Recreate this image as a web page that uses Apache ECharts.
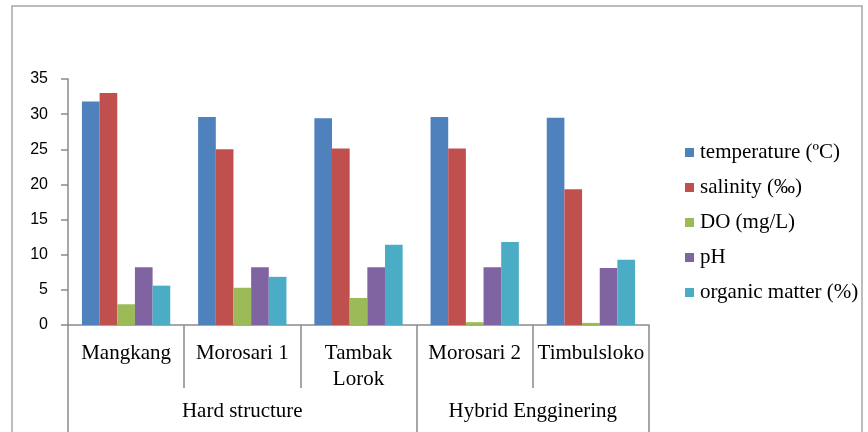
<!DOCTYPE html>
<html><head><meta charset="utf-8">
<script src="https://cdn.jsdelivr.net/npm/echarts@6/dist/echarts.min.js"></script>
<style>html,body{margin:0;padding:0;background:#fff}#c{width:868px;height:432px}</style>
</head><body><div id="c"></div>
<script>
const sites = ['Mangkang', 'Morosari 1', 'Tambak\nLorok', 'Morosari 2', 'Timbulsloko'];
const groupLabels = ['Hard structure', 'Hybrid Engginering'];
const groupCenters = [1.5, 4];
const groupBounds = [0, 3, 5];
const yTicks = [0, 35, 5];
const seriesNames = ['temperature (ºC)', 'salinity (‰)', 'DO (mg/L)', 'pH', 'organic matter (%)'];
const temperature = [31.8, 29.6, 29.4, 29.6, 29.5];
const salinity = [33.0, 25.0, 25.1, 25.1, 19.3];
const dissolvedO2 = [2.95, 5.3, 3.85, 0.4, 0.3];
const pH = [8.2, 8.2, 8.2, 8.2, 8.1];
const organicMatter = [5.6, 6.85, 11.4, 11.8, 9.3];
const colors = ['#4F81BD', '#C0504D', '#9BBB59', '#8064A2', '#4BACC6'];
const values = [temperature, salinity, dissolvedO2, pH, organicMatter];

const chart = echarts.init(document.getElementById('c'));
const axisGray = '#8a8a8a';
const serif = 'Liberation Serif';
chart.setOption({
  animation: false,
  color: colors,
  graphic: [{type: 'rect', shape: {x: 12, y: 6, width: 850, height: 440},
    style: {fill: 'none', stroke: '#a6a6a6', lineWidth: 1.5}, silent: true}],
  grid: {left: 68, right: 219, top: 79, bottom: 107},
  legend: {
    orient: 'vertical', left: 680, top: 137, itemGap: 14,
    itemWidth: 9, itemHeight: 9, icon: 'rect', itemStyle: {borderWidth: 0},
    textStyle: {fontFamily: serif, fontSize: 21, color: '#000', padding: [0, 0, 0, 1]},
    data: seriesNames
  },
  xAxis: [{
    type: 'category', data: sites, position: 'bottom',
    axisLine: {lineStyle: {color: axisGray, width: 1.5}},
    axisTick: {show: true, length: 63, lineStyle: {color: axisGray, width: 1.5}},
    axisLabel: {interval: 0, margin: 15, fontFamily: serif, fontSize: 21,
      color: '#000', lineHeight: 26}
  }, {
    type: 'value', min: 0, max: 5, interval: 0.5, position: 'bottom',
    splitLine: {show: false},
    axisLine: {show: false},
    axisTick: {show: true, length: 110, customValues: groupBounds, lineStyle: {color: axisGray, width: 1.5}},
    axisLabel: {customValues: groupCenters, margin: 76, fontFamily: serif, fontSize: 21, color: '#000',
      formatter: v => groupLabels[groupCenters.indexOf(v)] || ''}
  }],
  yAxis: {
    type: 'value', min: yTicks[0], max: yTicks[1], interval: yTicks[2],
    splitLine: {show: false},
    axisLine: {show: true, lineStyle: {color: axisGray, width: 1.5}},
    axisTick: {show: true, length: 7, lineStyle: {color: axisGray, width: 1.5}},
    axisLabel: {margin: 20, fontFamily: 'Liberation Sans', fontSize: 16, color: '#000'}
  },
  series: seriesNames.map((n, i) => ({
    name: n, type: 'bar', xAxisIndex: 0, data: values[i],
    barGap: '0%', barCategoryGap: '24%',
    itemStyle: {color: colors[i]}
  }))
});
</script></body></html>
